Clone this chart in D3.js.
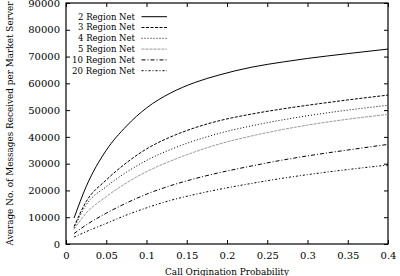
<!DOCTYPE html>
<html>
<head>
<meta charset="utf-8">
<script src="https://cdn.jsdelivr.net/npm/d3@7"></script>
<style>
  body { margin: 0; background: #fff; }
</style>
</head>
<body>
<div id="chart"></div>
<script>
// x values (call origination probability)
const probs = [0.01, 0.025, 0.05, 0.075, 0.1, 0.13, 0.16, 0.19, 0.23, 0.27, 0.3, 0.35, 0.4];

// average messages per market server, one array per network size
const net2  = [9700, 21400, 35000, 44000, 50800, 56400, 60300, 63100, 66000, 68000, 69300, 71100, 72800];
const net3  = [6500, 15800, 23900, 30300, 35500, 40000, 43400, 46000, 48500, 50500, 51800, 53800, 55600];
const net4  = [5900, 14600, 21400, 26800, 31200, 35300, 38600, 41300, 44100, 46400, 47900, 50000, 51800];
const net5  = [5500, 11500, 17700, 22800, 27000, 31000, 34400, 37300, 40300, 42800, 44400, 46600, 48400];
const net10 = [3900, 7100, 11500, 15300, 18600, 21800, 24400, 26600, 29100, 31400, 32900, 35100, 37200];
const net20 = [2600, 4600, 7700, 10800, 13500, 16300, 18500, 20400, 22600, 24600, 25900, 27800, 29500];

const seriesNames = ["2 Region Net", "3 Region Net", "4 Region Net", "5 Region Net", "10 Region Net", "20 Region Net"];
const seriesValues = [net2, net3, net4, net5, net10, net20];

const xTicks = [0, 0.05, 0.1, 0.15, 0.2, 0.25, 0.3, 0.35, 0.4];
const yTicks = [0, 10000, 20000, 30000, 40000, 50000, 60000, 70000, 80000, 90000];

const styles = [
    { color: "#000", dash: null },
    { color: "#000", dash: "3,1.5" },
    { color: "#000", dash: "1,2" },
    { color: "#999", dash: "3,1" },
    { color: "#000", dash: "4,2,1,2" },
    { color: "#000", dash: "2,2,1,2" }
];

const W = 400, H = 276;
const margin = { top: 3, right: 12, bottom: 32, left: 66 };
const width = W - margin.left - margin.right;
const height = H - margin.top - margin.bottom;
const serif = "DejaVu Serif";

const svg = d3.select("#chart")
    .append("svg")
    .attr("width", W)
    .attr("height", H);

const g = svg.append("g")
    .attr("transform", `translate(${margin.left},${margin.top})`);

const x = d3.scaleLinear().domain([0, 0.4]).range([0, width]);
const y = d3.scaleLinear().domain([0, 90000]).range([height, 0]);

const tickLen = 4;
const fs = 11;

// fit a text into a given width by shrinking its font if needed
function fit(sel, maxLen) {
    const len = sel.node().getComputedTextLength();
    if (len > maxLen) sel.attr("font-size", (fs * maxLen / len).toFixed(2) + "px");
}

// Axes (ticks inside, mirrored like gnuplot)
g.append("g")
    .attr("transform", `translate(0,${height})`)
    .call(d3.axisBottom(x).tickValues(xTicks).tickSizeInner(-tickLen).tickSizeOuter(0)
        .tickPadding(8).tickFormat(d => d === 0 ? "0" : String(+d.toFixed(2))));
g.append("g")
    .call(d3.axisTop(x).tickValues(xTicks).tickSizeInner(-tickLen).tickSizeOuter(0).tickFormat(""));
g.append("g")
    .call(d3.axisLeft(y).tickValues(yTicks).tickSizeInner(-tickLen).tickSizeOuter(0)
        .tickPadding(6).tickFormat(d3.format("d")));
g.append("g")
    .attr("transform", `translate(${width},0)`)
    .call(d3.axisRight(y).tickValues(yTicks).tickSizeInner(-tickLen).tickSizeOuter(0).tickFormat(""));

g.selectAll(".domain").remove();
g.selectAll(".tick line").attr("stroke", "#000");
g.selectAll(".tick text").attr("fill", "#000")
    .attr("font-family", serif).attr("font-size", "10px");

// Border
g.append("rect")
    .attr("width", width)
    .attr("height", height)
    .attr("fill", "none")
    .attr("stroke", "#000")
    .attr("stroke-width", 1.2);

// Lines
const line = d3.line()
    .x((d, i) => x(probs[i]))
    .y(d => y(d))
    .curve(d3.curveMonotoneX);

seriesValues.forEach((vals, i) => {
    g.append("path")
        .datum(vals)
        .attr("fill", "none")
        .attr("stroke", styles[i].color)
        .attr("stroke-width", 1)
        .attr("stroke-dasharray", styles[i].dash)
        .attr("d", line);
});

// Legend
const legend = g.append("g");
seriesNames.forEach((name, i) => {
    const ly = 13.7 + i * 10.8;
    const t = legend.append("text")
        .attr("x", 69)
        .attr("y", ly)
        .attr("dy", "0.35em")
        .attr("text-anchor", "end")
        .attr("font-family", serif)
        .attr("font-size", fs + "px")
        .text(name);
    fit(t, name.length > 12 ? 63 : 57);
    legend.append("line")
        .attr("x1", 75.5)
        .attr("x2", 101)
        .attr("y1", ly)
        .attr("y2", ly)
        .attr("stroke", styles[i].color)
        .attr("stroke-width", 1)
        .attr("stroke-dasharray", styles[i].dash);
});

// Axis titles
const xlab = svg.append("text")
    .attr("x", margin.left + width / 2)
    .attr("y", H - 1)
    .attr("text-anchor", "middle")
    .attr("font-family", serif)
    .attr("font-size", fs + "px")
    .text("Call Origination Probability");
fit(xlab, 124);

const ylab = svg.append("text")
    .attr("transform", `translate(13,${margin.top + height / 2}) rotate(-90)`)
    .attr("text-anchor", "middle")
    .attr("font-family", serif)
    .attr("font-size", fs + "px")
    .text("Average No. of Messages Received per Market Server");
fit(ylab, 244);
</script>
</body>
</html>
